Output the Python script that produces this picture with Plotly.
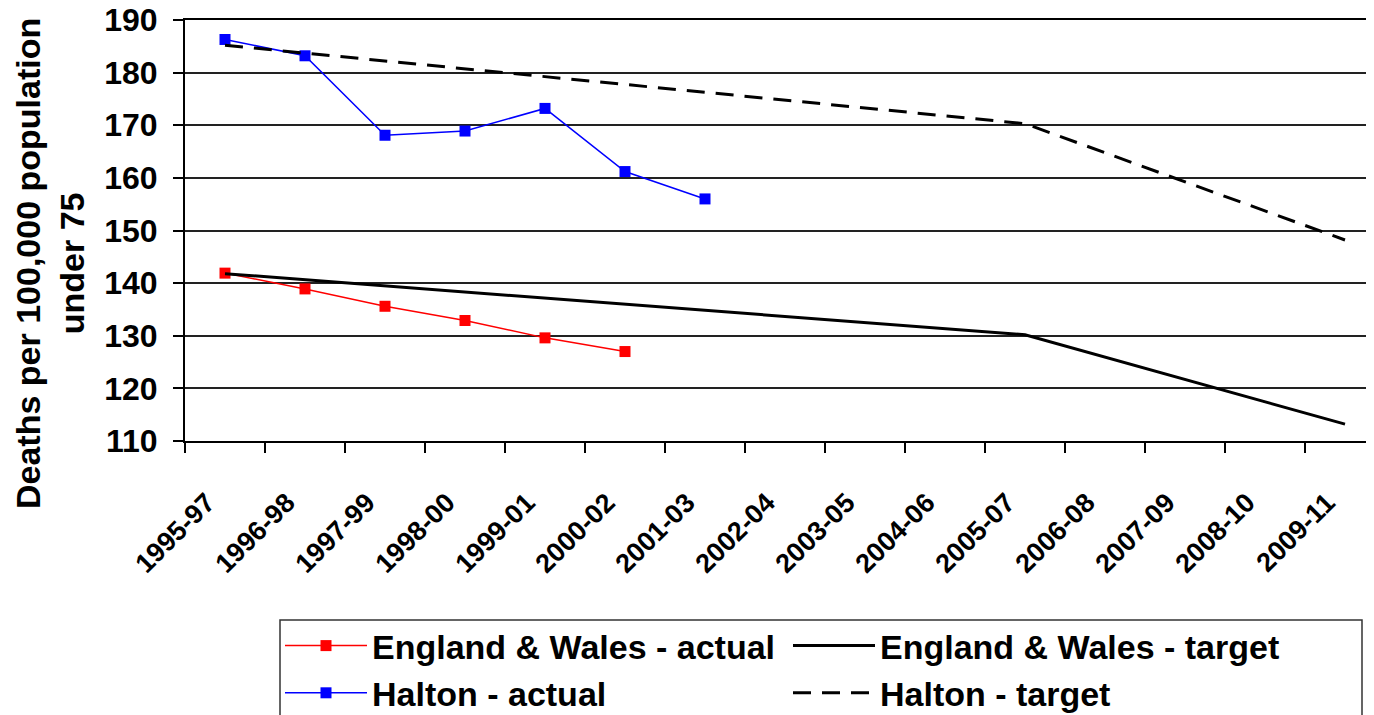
import plotly.graph_objects as go

categories = ["1995-97", "1996-98", "1997-99", "1998-00", "1999-01", "2000-02",
              "2001-03", "2002-04", "2003-05", "2004-06", "2005-07", "2006-08",
              "2007-09", "2008-10", "2009-11"]

ew_actual = [141.9, 138.9, 135.6, 132.9, 129.6, 127.0]
halton_actual = [186.3, 183.2, 168.1, 168.9, 173.2, 161.2, 156.0]
ew_target = [141.8, None, None, None, None, None, None, None, None, None, 130.2,
             None, None, None, 113.2]
halton_target = [185.2, None, None, None, None, None, None, None, None, None, 170.3,
                 None, None, None, 148.2]

y_title = "Deaths per 100,000 population<br>under 75"

FONT = "Liberation Sans"
# page body has an 8px margin, so the figure is drawn 8px in from the window edge
W, H = 1366, 707
OFF = 8
PLOT_W, PLOT_H = 1189, 421

fig = go.Figure()
fig.add_trace(go.Scatter(x=categories[:len(ew_actual)], y=ew_actual,
                         name="England & Wales - actual", mode="lines+markers",
                         line=dict(color="#ff0000", width=1.5),
                         marker=dict(symbol="square", size=11, color="#ff0000")))
fig.add_trace(go.Scatter(x=categories, y=ew_target, name="England & Wales - target",
                         mode="lines", connectgaps=True,
                         line=dict(color="#000000", width=3)))
fig.add_trace(go.Scatter(x=categories[:len(halton_actual)], y=halton_actual,
                         name="Halton - actual", mode="lines+markers",
                         line=dict(color="#0000ff", width=1.5),
                         marker=dict(symbol="square", size=11, color="#0000ff")))
fig.add_trace(go.Scatter(x=categories, y=halton_target, name="Halton - target",
                         mode="lines", connectgaps=True,
                         line=dict(color="#000000", width=3, dash="18px,11px")))

fig.update_layout(
    width=W, height=H,
    margin=dict(l=185 - OFF, r=0, t=20 - OFF, b=H - (441 - OFF)),
    plot_bgcolor="white", paper_bgcolor="white",
    font=dict(family=FONT, color="black", size=24, weight=700),
    showlegend=True,
    legend=dict(orientation="h", xref="container", yref="container",
                x=(280 - OFF) / W, xanchor="left", y=1 - (617 - OFF) / H, yanchor="top",
                entrywidth=411, entrywidthmode="pixels", itemwidth=82,
                borderwidth=0, bgcolor="rgba(0,0,0,0)",
                font=dict(family=FONT, size=34, weight=700, color="black"),
                tracegroupgap=0),
    shapes=[dict(type="rect", xref="paper", yref="paper", layer="above",
                 x0=(280 - 185) / PLOT_W, x1=(1362 - 185) / PLOT_W,
                 y0=(441 - 620) / PLOT_H, y1=(441 - 730) / PLOT_H,
                 line=dict(color="#333333", width=1.5), fillcolor="rgba(0,0,0,0)")],
    annotations=[dict(text=y_title, textangle=-90, xref="paper", yref="paper",
                      x=(50 - 185) / PLOT_W, y=(441 - 264) / PLOT_H,
                      xanchor="center", yanchor="middle", showarrow=False,
                      align="center",
                      font=dict(family=FONT, size=34, weight=700, color="black"))],
)
fig.update_xaxes(type="category", categoryorder="array", categoryarray=categories,
                 range=[-0.5, -0.5 + PLOT_W / 80.0], automargin=False,
                 tickson="boundaries", ticks="outside", ticklen=10, tickwidth=1.5,
                 tickcolor="black", tickangle=-45, showgrid=False,
                 ticklabelstandoff=33, ticklabelshift=-18,
                 showline=True, linecolor="black", linewidth=2, mirror=True,
                 tickfont=dict(family=FONT, size=27, weight=700, color="black"))
fig.update_yaxes(range=[110, 190], dtick=10, ticks="outside", ticklen=10,
                 tickwidth=1.5, tickcolor="black", automargin=False,
                 ticklabelstandoff=9, ticklabeloverflow="allow",
                 showgrid=True, gridcolor="#222222", gridwidth=1.5,
                 showline=True, linecolor="black", linewidth=2, zeroline=False,
                 tickfont=dict(family=FONT, size=32, weight=700, color="black"))

fig.write_html("out.html")
